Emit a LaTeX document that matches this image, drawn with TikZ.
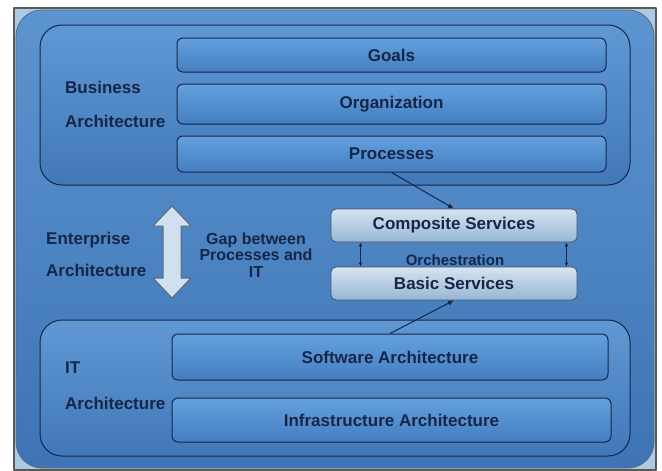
\documentclass[tikz,border=0pt]{standalone}
\usepackage{fontspec}
\setmainfont{Liberation Sans}
\usetikzlibrary{calc,arrows.meta}
\definecolor{navy}{RGB}{22,38,72}
\definecolor{frameblue}{RGB}{172,202,226}
\definecolor{outertop}{RGB}{92,148,208}
\definecolor{outerbot}{RGB}{62,116,180}
\definecolor{grouptop}{RGB}{96,152,212}
\definecolor{groupbot}{RGB}{66,120,184}
\definecolor{layertop}{RGB}{100,160,222}
\definecolor{layerbot}{RGB}{68,126,192}
\definecolor{svctop}{RGB}{214,228,240}
\definecolor{svcbot}{RGB}{150,182,212}
\tikzstyle{group} = [rectangle, rounded corners=22pt, draw=navy, line width=1pt,
top color=grouptop, bottom color=groupbot]
\tikzstyle{layer} = [rectangle, rounded corners=6pt, draw=navy, line width=1pt,
top color=layertop, bottom color=layerbot, text=navy,
font=\fontsize{17}{20}\selectfont\bfseries]
\tikzstyle{service} = [rectangle, rounded corners=5pt, draw=navy!80, line width=0.8pt,
top color=svctop, bottom color=svcbot, text=navy,
font=\fontsize{17}{20}\selectfont\bfseries]
\tikzstyle{caption} = [anchor=west, inner sep=0pt, align=left, text=navy]
\tikzstyle{arrow} = [-{Latex[length=6pt,width=5pt]}, line width=1pt, navy]
\tikzstyle{dbl} = [{Latex[length=4pt,width=4pt]}-{Latex[length=4pt,width=4pt]}, line width=0.8pt, navy]

\begin{document}
\begin{tikzpicture}[x=1pt, y=-1pt, line join=round]
		% bild 662 x 471, ursprung oben links
		\useasboundingbox (0,0) rectangle (662,471);
		
		% ---- 1. Rahmen ----
		\fill[white] (0,0) rectangle (662,471);
		\draw[fill=frameblue, draw=gray!70!black, line width=2.5pt] (14,8) rectangle (656,470);
		\draw[rounded corners=26pt, draw=navy!70, line width=0.8pt,
		top color=outertop, bottom color=outerbot]
		(16,10) rectangle (654,468);
		
		% ---- 2. Gruppen ----
		\node[group, minimum width=590pt, minimum height=160pt] (bus) at (335,105) {};
		\node[group, minimum width=590pt, minimum height=136pt] (itarch) at (335,388) {};
		
		% ---- 3. Schichten ----
		\node[layer, minimum width=429pt, minimum height=34pt] (goals) at (391.5,55) {Goals};
		\node[layer, minimum width=429pt, minimum height=40pt] (org) at (391.5,104) {Organization};
		\node[layer, minimum width=429pt, minimum height=36pt] (proc) at (391.5,154) {Processes};
		\node[layer, minimum width=436pt, minimum height=46pt] (soft) at (390,357) {Software Architecture};
		\node[layer, minimum width=439pt, minimum height=44pt] (infra) at (391.5,420) {Infrastructure Architecture};
		
		% ---- 4. Services ----
		\node[service, minimum width=246pt, minimum height=33pt] (comp) at (454,225.5) {Composite Services};
		\node[service, minimum width=246pt, minimum height=33pt] (basic) at (454,283.5) {Basic Services};
		\node[text=navy, font=\fontsize{15}{18}\selectfont\bfseries] (orch) at (455,260) {Orchestration};
		
		% ---- 5. Beschriftungen ----
		\node[caption, font=\fontsize{17}{34}\selectfont\bfseries] (buslbl) at (65,104) {Business\\Architecture};
		\node[caption, font=\fontsize{17}{32}\selectfont\bfseries] (entlbl) at (46,254) {Enterprise\\Architecture};
		\node[caption, font=\fontsize{17}{36}\selectfont\bfseries] (itlbl) at (65,386) {IT\\Architecture};
		\node[align=center, text=navy, font=\fontsize{16}{16.5}\selectfont\bfseries] (gap) at (256,255)
		{Gap between\\Processes and\\IT};
		
		% ---- 6. Doppelpfeil ----
		\draw[fill=svctop!85!frameblue, draw=navy!70, line width=1pt]
		(172,206) -- (191,226) -- (181,226) -- (181,278) -- (191,278) -- (172,298)
		-- (153,278) -- (163,278) -- (163,226) -- (153,226) -- cycle;
		
		% ---- 7. Verbindungen ----
		\draw[arrow] (proc.south) -- (comp.north);
		\draw[arrow] (soft.north) -- (basic.south);
		\draw[dbl] ($(comp.south west)+(30,0)$) -- ($(basic.north west)+(30,0)$);
		\draw[dbl] ($(comp.south east)+(-11,0)$) -- ($(basic.north east)+(-11,0)$);
		
	\end{tikzpicture}
\end{document}
